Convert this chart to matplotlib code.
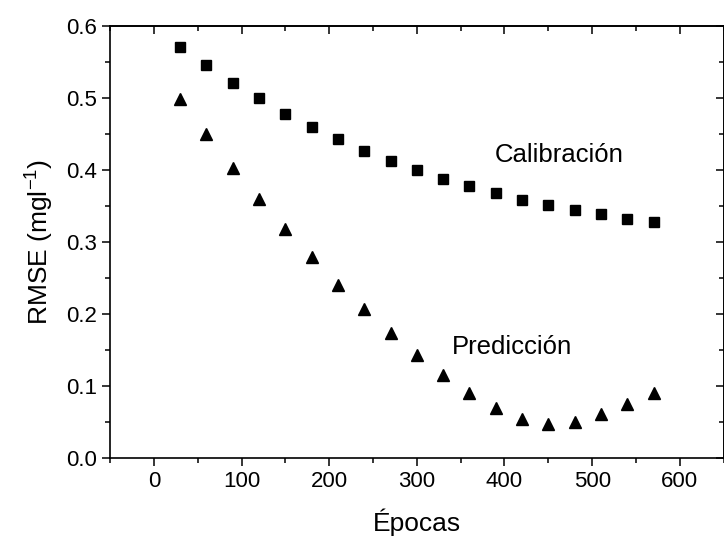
import matplotlib
matplotlib.use("Agg")
import matplotlib.pyplot as plt
from matplotlib.ticker import MultipleLocator

plt.rcParams["font.family"] = ["Liberation Sans", "DejaVu Sans"]

epocas = [30, 60, 90, 120, 150, 180, 210, 240, 270, 300,
          330, 360, 390, 420, 450, 480, 510, 540, 570]
calibracion = [0.571, 0.545, 0.521, 0.499, 0.478, 0.459, 0.442, 0.426, 0.412, 0.399,
               0.387, 0.377, 0.367, 0.358, 0.351, 0.344, 0.338, 0.332, 0.328]
prediccion = [0.498, 0.449, 0.403, 0.359, 0.317, 0.278, 0.240, 0.206, 0.173, 0.143,
              0.115, 0.090, 0.069, 0.053, 0.046, 0.049, 0.060, 0.074, 0.089]

fig = plt.figure(figsize=(7.24, 5.37), dpi=100)
# axes run a touch past the right edge, as in the original
ax = fig.add_axes([0.152, 0.148, 0.8475, 0.804])

ax.plot(epocas, calibracion, "s", color="black", markersize=7)
ax.plot(epocas, prediccion, "^", color="black", markersize=9)

ax.set_xlim(-50, 650)
ax.set_ylim(0.0, 0.6)
ax.xaxis.set_major_locator(MultipleLocator(100))
ax.xaxis.set_minor_locator(MultipleLocator(50))
ax.yaxis.set_major_locator(MultipleLocator(0.1))
ax.yaxis.set_minor_locator(MultipleLocator(0.05))
ax.yaxis.set_major_formatter(plt.FuncFormatter(lambda v, p: f"{v:.1f}"))

for s in ax.spines.values():
    s.set_linewidth(1.2)

ax.tick_params(which="major", direction="out", length=6, width=1.1, labelsize=16)
ax.tick_params(which="minor", direction="out", length=3.5, width=1.1)

# inward ticks on top and right
top = ax.secondary_xaxis("top")
top.xaxis.set_major_locator(MultipleLocator(100))
top.xaxis.set_minor_locator(MultipleLocator(50))
top.tick_params(which="major", direction="in", length=6, width=1.1, labeltop=False)
top.tick_params(which="minor", direction="in", length=3.5, width=1.1)
top.spines["top"].set_linewidth(1.2)

right = ax.secondary_yaxis("right")
right.yaxis.set_major_locator(MultipleLocator(0.1))
right.yaxis.set_minor_locator(MultipleLocator(0.05))
right.tick_params(which="major", direction="in", length=6, width=1.1, labelright=False)
right.tick_params(which="minor", direction="in", length=3.5, width=1.1)
right.spines["right"].set_linewidth(1.2)

ax.set_xlabel("Épocas", fontsize=19, labelpad=12)
ax.set_ylabel("RMSE (mgl$^{\\mathregular{-1}}$)", fontsize=19, labelpad=8)

ax.text(462, 0.42, "Calibración", fontsize=18.5, ha="center", va="center")
ax.text(409, 0.154, "Predicción", fontsize=18.5, ha="center", va="center")

fig.savefig("out.png", dpi=100)
